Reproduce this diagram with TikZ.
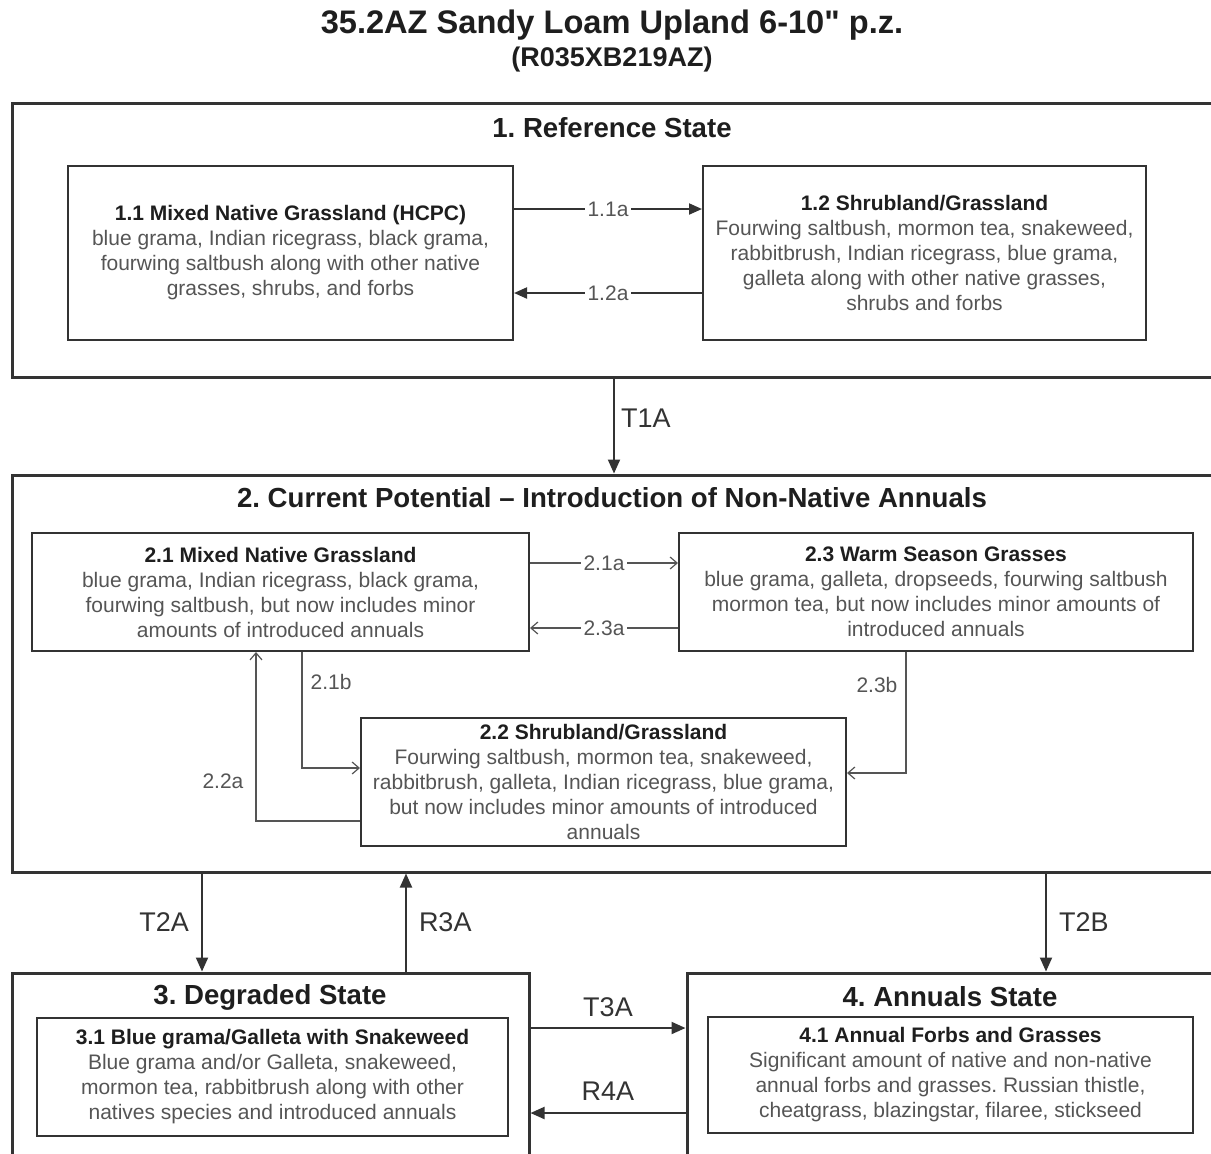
\documentclass[tikz,border=0pt]{standalone}
\usepackage{fontspec}
\setmainfont{Liberation Sans}[Ligatures=TeXOff]
\usetikzlibrary{arrows.meta,calc}
\definecolor{linec}{HTML}{333333}
\definecolor{headc}{HTML}{1E1E1E}
\definecolor{bodyc}{HTML}{555555}
\frenchspacing
\begin{document}
\frenchspacing
\begin{tikzpicture}[x=0.5pt,y=-0.5pt,
  statebox/.style={draw=linec, line width=1.5pt, inner sep=0pt},
  commbox/.style={draw=linec, line width=1pt, inner sep=0pt, align=center,
    font=\fontsize{10.5}{12.5}\selectfont, text=bodyc},
  statetitle/.style={font=\bfseries\fontsize{13.8}{16}\selectfont, text=headc, inner sep=0pt},
  arrA/.style={draw=linec, line width=1pt, -{Triangle[length=6.5pt,width=5.5pt]}},
  arrC/.style={draw=bodyc, line width=0.6pt, -{Straight Barb[length=3.5pt,width=6pt]}},
  arrB/.style={draw=linec, line width=1pt, -{Triangle[length=7pt,width=6pt]}},
  lab/.style={fill=white, inner sep=1.5pt, font=\fontsize{10.5}{12.5}\selectfont, text=bodyc},
  tlab/.style={inner sep=0pt, font=\fontsize{13.5}{15}\selectfont, text=linec},
]
\useasboundingbox (0,0) rectangle (1211,1153);
\clip (0,0) rectangle (1211,1153);
\fill[white] (0,0) rectangle (1211,1153);

% titles
\node[font=\bfseries\fontsize{16.3}{19}\selectfont, text=headc, inner sep=0pt] (title) at (612,25) {35.2AZ Sandy Loam Upland 6-10" p.z.};
\node[font=\bfseries\fontsize{13.5}{16}\selectfont, text=headc, inner sep=0pt] (subtitle) at (612,60) {(R035XB219AZ)};

% state boxes
\node[statebox, minimum width=609pt, minimum height=137pt] (box1) at (621,240) {};
\node[statebox, minimum width=609pt, minimum height=198.5pt] (box2) at (621,673.5) {};
\node[statebox, minimum width=258.5pt, minimum height=101pt] (box3) at (270.5,1074) {};
\node[statebox, minimum width=276.5pt, minimum height=101pt] (box4) at (963.5,1074) {};

\node[statetitle] (t1) at (612,128) {1. Reference State};
\node[statetitle] (t2) at (612,498) {2. Current Potential – Introduction of Non-Native Annuals};
\node[statetitle] (t3) at (270,997) {3. Degraded State};
\node[statetitle] (t4) at (950,997) {4. Annuals State};

% community boxes
\node[commbox, minimum width=222.5pt, minimum height=87pt] (b11) at (290.5,253)
 {\textcolor{headc}{\bfseries 1.1 Mixed Native Grassland (HCPC)}\\
  blue grama, Indian ricegrass, black grama,\\
  fourwing saltbush along with other native\\
  grasses, shrubs, and forbs};
\node[commbox, minimum width=221.5pt, minimum height=87pt] (b12) at (924.5,253)
 {\textcolor{headc}{\bfseries 1.2 Shrubland/Grassland}\\
  Fourwing saltbush, mormon tea, snakeweed,\\
  rabbitbrush, Indian ricegrass, blue grama,\\
  galleta along with other native grasses,\\
  shrubs and forbs};
\node[commbox, minimum width=248.5pt, minimum height=59pt] (b21) at (280.5,592)
 {\textcolor{headc}{\bfseries 2.1 Mixed Native Grassland}\\
  blue grama, Indian ricegrass, black grama,\\
  fourwing saltbush, but now includes minor\\
  amounts of introduced annuals};
\node[commbox, minimum width=257pt, minimum height=59pt] (b23) at (936,592)
 {\textcolor{headc}{\bfseries 2.3 Warm Season Grasses}\\
  blue grama, galleta, dropseeds, fourwing saltbush\\
  mormon tea, but now includes minor amounts of\\
  introduced annuals};
\node[commbox, minimum width=242.5pt, minimum height=64pt] (b22) at (603.5,782)
 {\textcolor{headc}{\bfseries 2.2 Shrubland/Grassland}\\
  Fourwing saltbush, mormon tea, snakeweed,\\
  rabbitbrush, galleta, Indian ricegrass, blue grama,\\
  but now includes minor amounts of introduced\\
  annuals};
\node[commbox, minimum width=235.5pt, minimum height=59pt] (b31) at (272.5,1077)
 {\textcolor{headc}{\bfseries 3.1 Blue grama/Galleta with Snakeweed}\\
  Blue grama and/or Galleta, snakeweed,\\
  mormon tea, rabbitbrush along with other\\
  natives species and introduced annuals};
\node[commbox, minimum width=242.5pt, minimum height=58pt] (b41) at (950.5,1075)
 {\textcolor{headc}{\bfseries 4.1 Annual Forbs and Grasses}\\
  Significant amount of native and non-native\\
  annual forbs and grasses. Russian thistle,\\
  cheatgrass, blazingstar, filaree, stickseed};

% state 1 pathways
\draw[arrA] ([yshift=22pt]b11.east) -- ([yshift=22pt]b12.west) node[midway,lab] (l11a) {1.1a};
\draw[arrA] ([yshift=-20pt]b12.west) -- ([yshift=-20pt]b11.east) node[midway,lab] (l12a) {1.2a};

% state 2 pathways
\draw[arrC] ([yshift=14.5pt]b21.east) -- ([yshift=14.5pt]b23.west) node[midway,lab] (l21a) {2.1a};
\draw[arrC] ([yshift=-18pt]b23.west) -- ([yshift=-18pt]b21.east) node[midway,lab] (l23a) {2.3a};
\draw[arrC] ([xshift=10.75pt]b21.south) |- ([yshift=7pt]b22.west)
  node[pos=0.13, anchor=west, lab, fill=none, inner sep=4pt] (l21b) {2.1b};
\draw[arrC] ([xshift=-15pt]b23.south) |- ([yshift=4.5pt]b22.east)
  node[pos=0.135, anchor=east, lab, fill=none, inner sep=4pt] (l23b) {2.3b};
\draw[arrC] ([yshift=-19.5pt]b22.west) -| ([xshift=-12.25pt]b21.south)
  node[pos=0.618, anchor=east, lab, fill=none, inner sep=6pt] (l22a) {2.2a};

% transitions between states
\draw[arrB] ([xshift=-3.5pt]box1.south) -- ([xshift=-3.5pt]box2.north)
  node[midway, anchor=west, tlab, xshift=3pt, yshift=4pt] (lT1A) {T1A};
\draw[arrB] ([xshift=-34.25pt]box3.north |- box2.south) -- ([xshift=-34.25pt]box3.north)
  node[midway, anchor=east, tlab, xshift=-6pt] (lT2A) {T2A};
\draw[arrB] ([xshift=67.75pt]box3.north) -- ([xshift=67.75pt]box3.north |- box2.south)
  node[midway, anchor=west, tlab, xshift=6pt] (lR3A) {R3A};
\draw[arrB] ([xshift=41.25pt]box4.north |- box2.south) -- ([xshift=41.25pt]box4.north)
  node[midway, anchor=west, tlab, xshift=6pt] (lT2B) {T2B};
\draw[arrB] ([yshift=23pt]box3.east) -- ([yshift=23pt]box3.east -| box4.west)
  node[midway, anchor=south, tlab, yshift=5pt] (lT3A) {T3A};
\draw[arrB] ([yshift=-19.5pt]box4.west) -- ([yshift=-19.5pt]box4.west -| box3.east)
  node[midway, anchor=south, tlab, yshift=6pt] (lR4A) {R4A};
\end{tikzpicture}
\end{document}
